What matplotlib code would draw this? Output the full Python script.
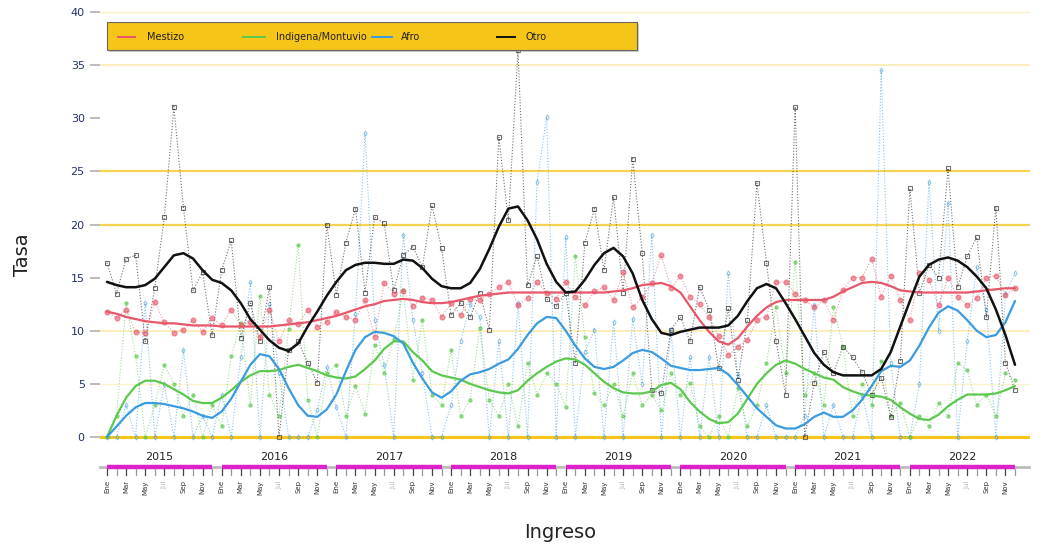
import numpy as np
import matplotlib
matplotlib.use("Agg")
import matplotlib.pyplot as plt
from matplotlib.patches import Rectangle
from matplotlib.lines import Line2D
from matplotlib.transforms import blended_transform_factory

# ---- data: monthly rates Jan 2015 - Dec 2022 ----
years = [2015, 2016, 2017, 2018, 2019, 2020, 2021, 2022]
month_labels = ["Ene", "Mar", "May", "Jul", "Sep", "Nov"]
series_names = ["Mestizo", "Indigena/Montuvio", "Afro", "Otro"]

mestizo = [11.8, 11.2, 12.0, 9.9, 9.8, 12.7, 10.8, 9.8, 10.1, 11.0, 9.9, 11.2,
           10.5, 12.0, 10.5, 10.8, 9.4, 12.0, 9.0, 11.0, 10.6, 12.0, 10.4, 10.8,
           11.8, 11.3, 11.0, 12.9, 9.4, 14.5, 13.5, 13.7, 12.3, 13.1, 12.9, 11.3,
           12.6, 11.5, 13.0, 12.9, 13.5, 14.1, 14.6, 12.4, 13.1, 14.6, 13.6, 13.0,
           14.6, 13.2, 12.4, 13.7, 14.1, 12.9, 15.5, 12.2, 13.2, 14.5, 17.1, 14.0,
           15.2, 13.2, 12.5, 11.3, 9.5, 7.7, 8.5, 9.1, 11.0, 11.3, 14.6, 14.6,
           13.5, 12.9, 12.2, 12.9, 11.0, 13.8, 15.0, 15.0, 16.8, 13.2, 15.2, 12.9,
           11.0, 15.4, 14.8, 12.4, 15.0, 13.2, 12.4, 13.1, 15.0, 15.2, 13.4, 14.0]

indigena = [0.0, 2.0, 12.6, 7.6, 0.0, 3.0, 6.8, 5.0, 2.0, 4.0, 0.0, 3.0,
            1.0, 7.6, 10.7, 3.0, 13.3, 4.0, 2.0, 10.2, 18.1, 3.5, 0.0, 6.0,
            6.8, 2.0, 4.8, 2.2, 8.7, 6.0, 9.2, 13.8, 5.4, 11.0, 4.0, 3.0,
            8.2, 2.0, 3.5, 10.3, 3.5, 2.0, 5.0, 1.0, 7.0, 4.0, 6.0, 5.0,
            2.8, 17.0, 9.4, 4.1, 3.0, 5.0, 2.0, 6.0, 3.0, 4.0, 2.5, 6.0,
            4.0, 5.1, 1.0, 0.0, 2.0, 0.0, 4.6, 1.0, 3.0, 7.0, 12.2, 6.0,
            16.5, 4.0, 6.0, 3.0, 12.2, 8.5, 2.0, 5.0, 3.0, 7.2, 2.0, 3.2,
            0.0, 2.0, 1.0, 3.2, 2.0, 7.0, 6.3, 3.0, 4.0, 2.0, 6.0, 5.4]

afro = [0.0, 0.0, 3.0, 0.0, 12.6, 0.0, 5.0, 0.0, 8.2, 0.0, 2.0, 0.0,
        4.0, 0.0, 7.5, 14.6, 0.0, 12.5, 6.0, 0.0, 0.0, 0.0, 2.5, 6.6,
        2.8, 0.0, 11.6, 28.6, 11.0, 6.8, 0.0, 19.0, 11.0, 6.0, 0.0, 0.0,
        3.0, 9.0, 12.5, 11.3, 0.0, 9.0, 0.0, 12.6, 0.0, 24.0, 30.1, 0.0,
        18.8, 0.0, 8.0, 10.1, 0.0, 10.8, 0.0, 11.1, 5.0, 19.0, 0.0, 10.1,
        0.0, 7.5, 0.0, 7.5, 0.0, 15.4, 5.8, 0.0, 0.0, 3.0, 0.0, 0.0,
        0.0, 2.0, 12.4, 0.0, 3.0, 0.0, 0.0, 4.0, 0.0, 34.5, 7.0, 0.0,
        0.0, 5.0, 24.0, 10.0, 22.0, 0.0, 9.0, 16.0, 12.0, 0.0, 13.5, 15.4]

otro = [16.4, 13.5, 16.8, 17.1, 9.0, 14.0, 20.7, 31.1, 21.6, 13.8, 15.5, 9.6,
        15.7, 18.5, 9.3, 12.6, 9.0, 14.1, 0.0, 8.2, 9.0, 7.0, 5.1, 20.0,
        13.4, 18.3, 21.5, 13.6, 20.7, 20.1, 13.8, 17.1, 17.9, 16.0, 21.8, 17.8,
        11.5, 12.6, 11.3, 13.6, 10.1, 28.2, 20.4, 36.4, 14.3, 17.0, 13.0, 12.3,
        13.6, 7.0, 18.3, 21.5, 15.7, 22.6, 13.6, 26.2, 17.3, 4.4, 4.1, 10.1,
        11.3, 9.0, 14.1, 12.0, 6.5, 12.1, 5.4, 11.0, 23.9, 16.4, 9.0, 4.0,
        31.1, 0.0, 5.1, 8.0, 6.0, 8.5, 7.5, 6.1, 4.0, 5.6, 1.9, 7.2,
        23.4, 13.6, 16.2, 15.0, 25.3, 14.1, 17.0, 18.8, 11.3, 21.6, 7.0, 4.4]

# smoothed trend per series
mestizo_trend = [11.8, 11.6, 11.3, 11.1, 10.9, 10.8, 10.7, 10.7, 10.6, 10.5, 10.5, 10.5,
                 10.4, 10.4, 10.4, 10.4, 10.4, 10.4, 10.5, 10.6, 10.7, 10.8, 11.0, 11.2,
                 11.4, 11.7, 12.0, 12.3, 12.5, 12.8, 12.9, 13.0, 12.9, 12.7, 12.6, 12.6,
                 12.7, 12.9, 13.1, 13.3, 13.4, 13.5, 13.6, 13.6, 13.6, 13.6, 13.6, 13.6,
                 13.6, 13.6, 13.6, 13.6, 13.6, 13.7, 13.8, 14.0, 14.3, 14.4, 14.5, 14.2,
                 13.6, 12.3, 11.0, 9.9, 9.0, 8.7, 9.3, 10.4, 11.4, 12.2, 12.7, 12.9,
                 12.9, 12.9, 12.9, 12.9, 13.2, 13.7, 14.1, 14.5, 14.6, 14.5, 14.2, 13.8,
                 13.7, 13.6, 13.6, 13.6, 13.6, 13.6, 13.6, 13.7, 13.8, 13.9, 14.0, 14.0]

indigena_trend = [0.0, 2.0, 3.7, 4.8, 5.3, 5.3, 5.0, 4.5, 4.0, 3.4, 3.2, 3.2,
                  3.7, 4.4, 5.2, 5.8, 6.2, 6.2, 6.3, 6.6, 6.8, 6.5, 6.2, 5.8,
                  5.6, 5.5, 5.7, 6.4, 7.2, 8.3, 9.0, 9.0, 8.0, 7.2, 6.2, 5.8,
                  5.6, 5.4, 5.0, 4.7, 4.4, 4.2, 4.1, 4.4, 5.3, 6.0, 6.6, 7.1,
                  7.4, 7.3, 6.8, 6.0, 5.2, 4.6, 4.2, 4.1, 4.1, 4.3, 4.9, 5.1,
                  4.5, 3.3, 2.4, 1.7, 1.3, 1.4, 2.2, 3.6, 5.0, 6.0, 6.8, 7.2,
                  6.9, 6.4, 6.0, 5.6, 5.4, 4.7, 4.3, 4.0, 3.9, 3.8, 3.5, 2.8,
                  2.2, 1.7, 1.6, 2.1, 2.9, 3.5, 4.0, 4.0, 4.0, 4.1, 4.4, 4.8]

afro_trend = [0.0, 1.0, 2.0, 2.8, 3.2, 3.2, 3.1, 2.9, 2.7, 2.4, 2.0, 1.8,
              2.4, 3.6, 5.2, 6.8, 7.8, 7.6, 6.4, 4.6, 3.0, 2.0, 1.9, 2.6,
              4.0, 6.2, 8.2, 9.4, 9.9, 9.8, 9.5, 8.8, 7.0, 5.5, 4.2, 3.7,
              4.3, 5.3, 5.9, 6.1, 6.4, 6.9, 7.3, 8.3, 9.6, 10.7, 11.3, 11.2,
              10.0, 8.6, 7.4, 6.6, 6.4, 6.6, 7.2, 7.9, 8.2, 8.0, 7.4, 6.7,
              6.5, 6.3, 6.3, 6.4, 6.5, 5.9, 4.9, 3.8, 2.7, 1.9, 1.1, 0.8,
              0.8, 1.2, 1.9, 2.3, 1.9, 1.9, 2.5, 3.5, 4.8, 6.2, 6.7, 6.6,
              7.2, 8.6, 10.3, 11.7, 12.3, 11.9, 11.0, 10.0, 9.4, 9.6, 10.8, 12.8]

otro_trend = [14.6, 14.3, 14.1, 14.1, 14.3, 14.9, 16.0, 17.1, 17.3, 16.8, 15.7, 14.8,
              14.5, 13.8, 12.6, 11.1, 10.1, 9.1, 8.4, 8.1, 8.8, 10.4, 11.8, 13.3,
              14.6, 15.7, 16.2, 16.4, 16.4, 16.3, 16.3, 16.7, 16.6, 15.9, 14.9, 14.2,
              14.0, 14.0, 14.5, 15.8, 17.7, 19.8, 21.5, 21.7, 20.4, 18.6, 16.3, 14.6,
              13.6, 13.7, 14.8, 16.2, 17.3, 17.8, 17.0, 15.4, 12.9, 11.1, 9.8, 9.6,
              9.9, 10.1, 10.3, 10.3, 10.3, 10.5, 11.4, 12.8, 14.0, 14.4, 14.0, 12.6,
              11.1, 9.5, 7.9, 6.8, 6.1, 5.8, 5.8, 5.8, 5.8, 6.4, 8.0, 10.4,
              12.8, 15.1, 16.2, 16.7, 16.9, 16.6, 16.0, 15.1, 14.0, 12.0, 9.6, 6.8]

colors = {"Mestizo": "#E8566A", "Indigena/Montuvio": "#5CC84E",
          "Afro": "#3A9BE0", "Otro": "#111111"}
gold = "#F5C518"

raw = {"Mestizo": mestizo, "Indigena/Montuvio": indigena, "Afro": afro, "Otro": otro}
trend = {"Mestizo": mestizo_trend, "Indigena/Montuvio": indigena_trend,
         "Afro": afro_trend, "Otro": otro_trend}
markers = {"Mestizo": dict(marker="o", ms=3.4, mfc=colors["Mestizo"], mec=colors["Mestizo"]),
           "Indigena/Montuvio": dict(marker="o", ms=2.2, mfc=colors["Indigena/Montuvio"],
                                     mec=colors["Indigena/Montuvio"]),
           "Afro": dict(marker="d", ms=2.6, mfc="none", mec=colors["Afro"], mew=0.7),
           "Otro": dict(marker="s", ms=3.2, mfc="none", mec="#111111", mew=0.8)}

n = len(mestizo)
x = np.arange(n)

fig = plt.figure(figsize=(10.44, 5.47), dpi=100)
ax = fig.add_axes([100 / 1044, 105 / 547, 930 / 1044, 434 / 547])

# horizontal reference lines
for yv, lw, a in [(40, 1.0, 0.25), (35, 1.2, 0.35), (25, 1.6, 0.75), (20, 1.6, 0.75),
                  (10, 1.2, 0.35), (5, 1.0, 0.22)]:
    ax.axhline(yv, color=gold, lw=lw, alpha=a, zorder=0)
ax.axhline(0, color=gold, lw=2.2, zorder=1)

# monthly series (dotted) and smoothed trends
for name in ["Afro", "Indigena/Montuvio", "Otro", "Mestizo"]:
    ax.plot(x, raw[name], linestyle=(0, (1, 1.6)), lw=0.8, color=colors[name],
            alpha=0.6, zorder=2, **markers[name])
for name in ["Indigena/Montuvio", "Afro", "Mestizo", "Otro"]:
    ax.plot(x, trend[name], color=colors[name], lw=1.8 if name == "Otro" else 1.6,
            zorder=4, solid_capstyle="round")

ax.set_xlim(-0.73, 96.57)
ax.set_ylim(-0.47, 40.38)
ax.set_yticks(range(0, 41, 5))
ax.set_xticks([])
ax.tick_params(axis="y", length=7, width=1.4, color="#BBBBBB",
               labelcolor="#22306E", labelsize=8, pad=4)
for s in ax.spines.values():
    s.set_visible(False)

# year bands with month ticks and labels under the plot
tr = blended_transform_factory(ax.transData, ax.transAxes)
ax.plot([-0.7, 96.5], [-0.0576, -0.0576], transform=tr, color="#BBBBBB",
        lw=2, clip_on=False, zorder=1)
for k, yr in enumerate(years):
    x0, x1 = 12 * k, 12 * k + 11
    ax.plot([x0, x1], [-0.0576, -0.0576], transform=tr, color="#DD22CC",
            lw=3.2, clip_on=False, solid_capstyle="butt", zorder=2)
    ax.text((x0 + x1) / 2, -0.034, str(yr), transform=tr, ha="center",
            va="center", fontsize=8, color="#222222")
    for j in range(12):
        ax.plot([x0 + j, x0 + j], [-0.063, -0.077], transform=tr,
                color="#444444" if j % 2 == 0 else "#999999", lw=0.9,
                clip_on=False)
    for j, lab in enumerate(month_labels):
        ax.text(x0 + 2 * j, -0.088, lab, transform=tr, rotation=90,
                ha="center", va="top", fontsize=5,
                color="#BBBBBB" if lab == "Jul" else "#333333")

fig.text(22 / 1044, 1 - 255 / 547, "Tasa", rotation=90, ha="center",
         va="center", fontsize=14, color="#222222")
fig.text(560 / 1044, 1 - 532 / 547, "Ingreso", ha="center", va="center",
         fontsize=14, color="#222222")

# legend box
fig.patches.append(Rectangle((109 / 1044, 1 - 52 / 547), 530 / 1044, 28 / 547,
                             transform=fig.transFigure, facecolor="#999999",
                             edgecolor="none", alpha=0.5, zorder=9))
fig.patches.append(Rectangle((107 / 1044, 1 - 50 / 547), 530 / 1044, 28 / 547,
                             transform=fig.transFigure, facecolor=gold,
                             edgecolor="#666666", lw=0.8, zorder=10))
ly = 1 - 37 / 547
for name, lx0, lx1, tx in [("Mestizo", 118, 135, 147), ("Indigena/Montuvio", 243, 265, 276),
                           ("Afro", 372, 392, 401), ("Otro", 497, 515, 526)]:
    fig.lines.append(Line2D([lx0 / 1044, lx1 / 1044], [ly, ly], transform=fig.transFigure,
                            color=colors[name], lw=1.4, zorder=11))
    fig.text(tx / 1044, ly, name, ha="left", va="center", fontsize=7,
             color="#222222", zorder=11)

fig.savefig("out.png", dpi=100)
